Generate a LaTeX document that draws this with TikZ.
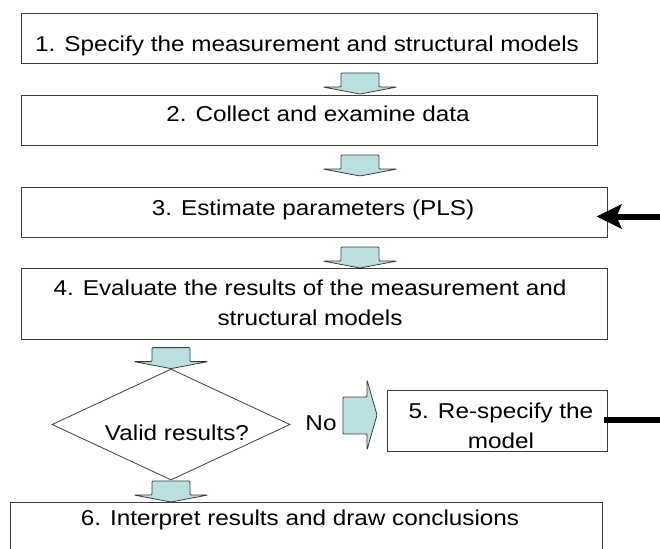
\documentclass[tikz,border=0pt]{standalone}
\usepackage{fontspec}
\setmainfont[FakeStretch=1.13]{Liberation Sans}
\usetikzlibrary{shapes.geometric,arrows.meta,calc}
\definecolor{arrowblue}{RGB}{188,224,226}
\definecolor{edgegray}{RGB}{60,60,60}
\begin{document}
\begin{tikzpicture}[x=1pt,y=-1pt,
  box/.style={draw=edgegray, line width=0.9pt, inner sep=0pt},
  txt/.style={inner sep=0pt, align=center, anchor=base, font=\fontsize{21.5}{29.5}\selectfont},
  blk/.style={draw=edgegray, fill=arrowblue, line width=0.8pt, rounded corners=1pt},
  downblk/.pic={\draw[blk] (-19,-21) -- (19,-21) -- (19,-7) -- (37,-7) -- (0,0) -- (-37,-7) -- (-19,-7) -- cycle;},
  rightblk/.pic={\draw[blk] (-34,-18) -- (-10,-18) -- (-10,-35) -- (0,0) -- (-10,35) -- (-10,19) -- (-34,19) -- cycle;},
  thick arrow/.style={line width=6pt}
]
\useasboundingbox (0,0) rectangle (660,548);
\clip (0,0) rectangle (660,548);

% boxes
\node[box, minimum width=576pt, minimum height=50pt] (b1) at (309,38) {};
\node[box, minimum width=576pt, minimum height=50pt] (b2) at (309,120) {};
\node[box, minimum width=586pt, minimum height=50pt] (b3) at (314,212) {};
\node[box, minimum width=586pt, minimum height=71pt] (b4) at (314,304) {};
\node[box, minimum width=220pt, minimum height=61pt] (b5) at (497,420.5) {};
\node[draw=edgegray, line width=0.8pt, diamond, inner sep=0pt, minimum width=238pt, minimum height=111pt] (d) at (171,424.5) {};
\node[box, anchor=north, minimum width=592pt, minimum height=80pt] (b6) at (306,502) {};

% texts (base = baseline of the last line)
\node[txt] (t1) at (307,52) {1. Specify the measurement and structural models};
\node[txt] (t2) at (318,121.5) {2. Collect and examine data};
\node[txt] (t3) at (313,215) {3. Estimate parameters (PLS)};
\node[txt] (t4) at (310,325) {4. Evaluate the results of the measurement and\\structural models};
\node[txt] (t5) at (501,448) {5. Re-specify the\\model};
\node[txt] (td) at (177,440) {Valid results?};
\node[txt] (tno) at (321,430) {No};
\node[txt] (t6) at (300,525) {6. Interpret results and draw conclusions};

% block arrows
\coordinate (a12) at (360,94);
\coordinate (a23) at (360,176);
\coordinate (a34) at (360,268);
\coordinate (a4d) at (d.north);
\coordinate (ad6) at (b6.north -| d.south);
\coordinate (adno) at (377,415);
\pic at (a12) {downblk};
\pic at (a23) {downblk};
\pic at (a34) {downblk};
\pic at (a4d) {downblk};
\pic at (ad6) {downblk};
\pic at (adno) {rightblk};

% black feedback arrows
\coordinate (inA) at (660,216.5);
\coordinate (tipA) at ($(b3.east)+(-11,4.5)$);
\draw[thick arrow, -{Stealth[length=25pt,width=24pt,inset=5pt]}] (inA) -- (tipA);
\coordinate (outB) at (660,419.5);
\draw[thick arrow] ($(b5.east)+(-3,-1)$) -- (outB);
\end{tikzpicture}
\end{document}
